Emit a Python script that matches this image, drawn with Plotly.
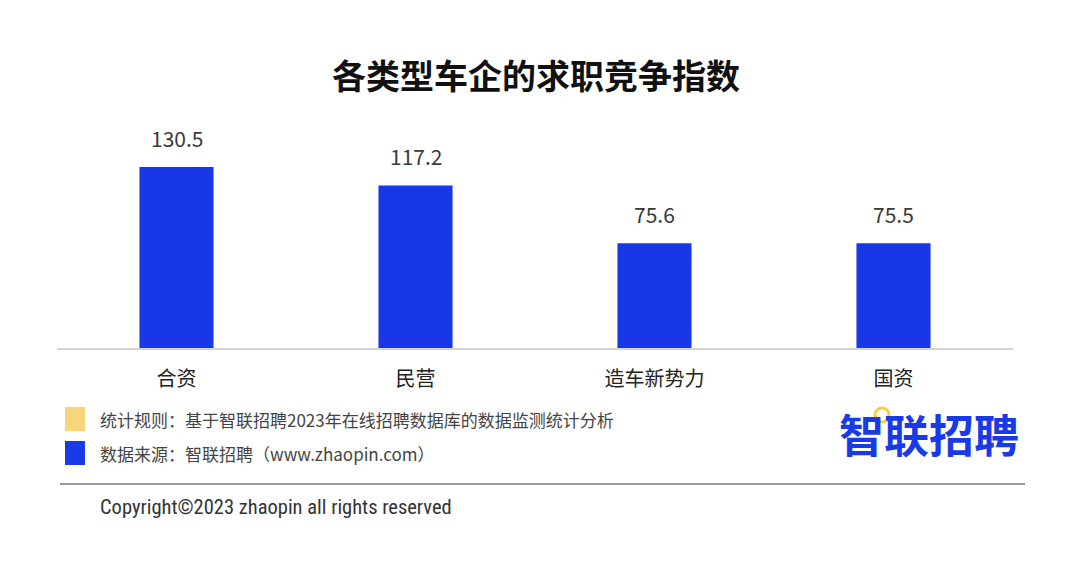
import plotly.graph_objects as go

categories = ["合资", "民营", "造车新势力", "国资"]
values = [130.5, 117.2, 75.6, 75.5]
value_labels = ["130.5", "117.2", "75.6", "75.5"]

title_text = "各类型车企的求职竞争指数"
legend_items = ["统计规则：基于智联招聘2023年在线招聘数据库的数据监测统计分析",
                "数据来源：智联招聘（www.zhaopin.com）"]
legend_colors = ["#F7D67A", "#1A3AE8"]
logo_text = "智联招聘"
copyright_text = "Copyright©2023 zhaopin all rights reserved"

OFF = 8  # page body margin
W, H = 1080 - OFF, 561 - OFF
L = 57 - OFF
R = W - (1013 - OFF)
T = 100 - OFF
B = H - (348 - OFF)
PW, PH = W - L - R, H - T - B


def px(x):
    return (x - OFF - L) / PW


def py(y):
    return (H - B - (y - OFF)) / PH


BAR = "#1838E8"
CJK = "Noto Sans CJK SC"

fig = go.Figure()
fig.add_trace(go.Bar(x=categories, y=values, marker=dict(color=BAR, line=dict(width=0)),
                     width=0.31, hoverinfo="skip"))

annotations = []
for c, v, t in zip(categories, values, value_labels):
    annotations.append(dict(x=c, y=v, xref="x", yref="y", text=t, showarrow=False,
                            yanchor="bottom", yshift=12,
                            font=dict(family=CJK, size=21, color="#3a3a3a")))

annotations.append(dict(x=px(536), y=py(74), xref="paper", yref="paper", text="<b>" + title_text + "</b>",
                        showarrow=False, xanchor="center", yanchor="middle",
                        font=dict(family=CJK, size=34, color="#111111")))

shapes = []
for i, (txt, col) in enumerate(zip(legend_items, legend_colors)):
    yc = 419 + i * 34
    shapes.append(dict(type="rect", xref="paper", yref="paper", x0=px(65), x1=px(85),
                       y0=py(yc - 12), y1=py(yc + 12), fillcolor=col, line=dict(width=0)))
    annotations.append(dict(x=px(98), y=py(yc), xref="paper", yref="paper", text=txt,
                            showarrow=False, xanchor="left", yanchor="middle",
                            font=dict(family=CJK, size=17, color="#444444")))

annotations.append(dict(x=px(1021), y=py(433), xref="paper", yref="paper", text="<b>" + logo_text + "</b>",
                        showarrow=False, xanchor="right", yanchor="middle",
                        font=dict(family=CJK, size=45, color="#1A3AE8")))
shapes.append(dict(type="circle", xref="paper", yref="paper", x0=px(875), x1=px(889),
                   y0=py(422), y1=py(408), fillcolor="white", line=dict(width=3, color="#F7D040")))

shapes.append(dict(type="line", xref="paper", yref="paper", x0=px(60), x1=px(1025),
                   y0=py(484), y1=py(484), line=dict(color="#9a9a9a", width=2)))
annotations.append(dict(x=px(98), y=py(507), xref="paper", yref="paper", text=copyright_text,
                        showarrow=False, xanchor="left", yanchor="middle",
                        font=dict(family="Liberation Sans Narrow, Roboto Condensed, Liberation Sans", size=20.5,
                                  color="#333333")))

fig.update_layout(
    width=W, height=H,
    margin=dict(l=L, r=R, t=T, b=B),
    paper_bgcolor="white", plot_bgcolor="white",
    showlegend=False,
    annotations=annotations,
    shapes=shapes,
    xaxis=dict(showline=True, linecolor="#d4d4d4", linewidth=2, showgrid=False, zeroline=False,
               ticks="", ticklabelstandoff=12,
               tickfont=dict(family=CJK, size=20, color="#222222")),
    yaxis=dict(range=[0, PH / 1.387], visible=False, showgrid=False, zeroline=False),
)

fig.write_html("out.html")
